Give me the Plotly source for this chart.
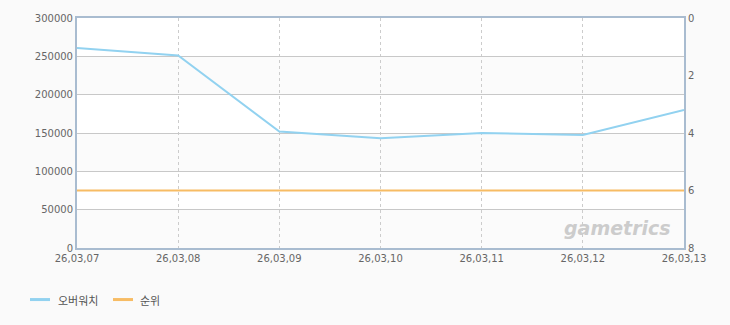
import plotly.graph_objects as go

dates = ["26,03,07", "26,03,08", "26,03,09", "26,03,10", "26,03,11", "26,03,12", "26,03,13"]
overwatch = [261000, 251000, 152000, 143000, 150000, 147500, 180000]
rank = [6, 6, 6, 6, 6, 6, 6]
left_ticks = [0, 50000, 100000, 150000, 200000, 250000, 300000]
right_ticks = [0, 2, 4, 6, 8]
series_names = ["오버워치", "순위"]
series_colors = ["#92d2f0", "#f7bc64"]

xs = list(range(len(dates)))
font = dict(family="DejaVu Sans, Noto Sans CJK KR", size=10, color="#666666")

fig = go.Figure()
fig.add_trace(go.Scatter(x=xs, y=overwatch, name=series_names[0], mode="lines",
                         line=dict(color=series_colors[0], width=2)))
fig.add_trace(go.Scatter(x=xs, y=rank, name=series_names[1], mode="lines", yaxis="y2",
                         line=dict(color=series_colors[1], width=2)))

# alternating bands
for i in range(0, len(left_ticks) - 1):
    if i % 2 == 0:
        fig.add_shape(type="rect", xref="paper", yref="y", x0=0, x1=1,
                      y0=left_ticks[i], y1=left_ticks[i + 1],
                      fillcolor="#fbfbfb", line_width=0, layer="below")

fig.add_annotation(x=0.891, y=0.086, xref="paper", yref="paper", xanchor="center", yanchor="middle",
                   text="<b><i>gametrics</i></b>", showarrow=False,
                   font=dict(family="DejaVu Sans", size=19, color="#cccccc"))

# custom legend (paper coords: plot area 77..684 px wide, 16..248 px tall)
W, H = 607.0, 232.0
leg_y = (248 - 300) / H
legend_items = [(30, 50, 56), (113, 133, 138)]
for (x0, x1, tx), name, col in zip(legend_items, series_names, series_colors):
    fig.add_shape(type="line", xref="paper", yref="paper",
                  x0=(x0 - 77) / W, x1=(x1 - 77) / W, y0=leg_y, y1=leg_y,
                  line=dict(color=col, width=3))
    fig.add_annotation(x=(tx - 77) / W, y=leg_y, xref="paper", yref="paper",
                       xanchor="left", yanchor="middle", text=name, showarrow=False,
                       font=dict(family="Noto Sans CJK KR", size=11, color="#555555"))

fig.update_layout(
    width=730, height=325,
    margin=dict(l=77, r=46, t=16, b=77),
    paper_bgcolor="#fafafa", plot_bgcolor="#ffffff",
    font=font,
    showlegend=False,
    xaxis=dict(tickmode="array", tickvals=xs, ticktext=dates, range=[0, len(dates) - 1],
               showgrid=True, gridcolor="#cccccc", griddash="3px,3px", gridwidth=1,
               showline=True, linecolor="#a9bcd0", linewidth=2, mirror=True,
               ticks="", zeroline=False, tickfont=font),
    yaxis=dict(range=[0, 300000], tickvals=left_ticks, tickformat="d",
               showgrid=True, gridcolor="#c8c8c8", gridwidth=1,
               showline=True, linecolor="#a9bcd0", linewidth=2,
               ticks="", zeroline=False, tickfont=font),
    yaxis2=dict(range=[8, 0], tickvals=right_ticks, overlaying="y", side="right",
                showgrid=False, showline=True, linecolor="#a9bcd0", linewidth=2,
                ticks="", zeroline=False, tickfont=font),
)

fig.write_html("out.html")
